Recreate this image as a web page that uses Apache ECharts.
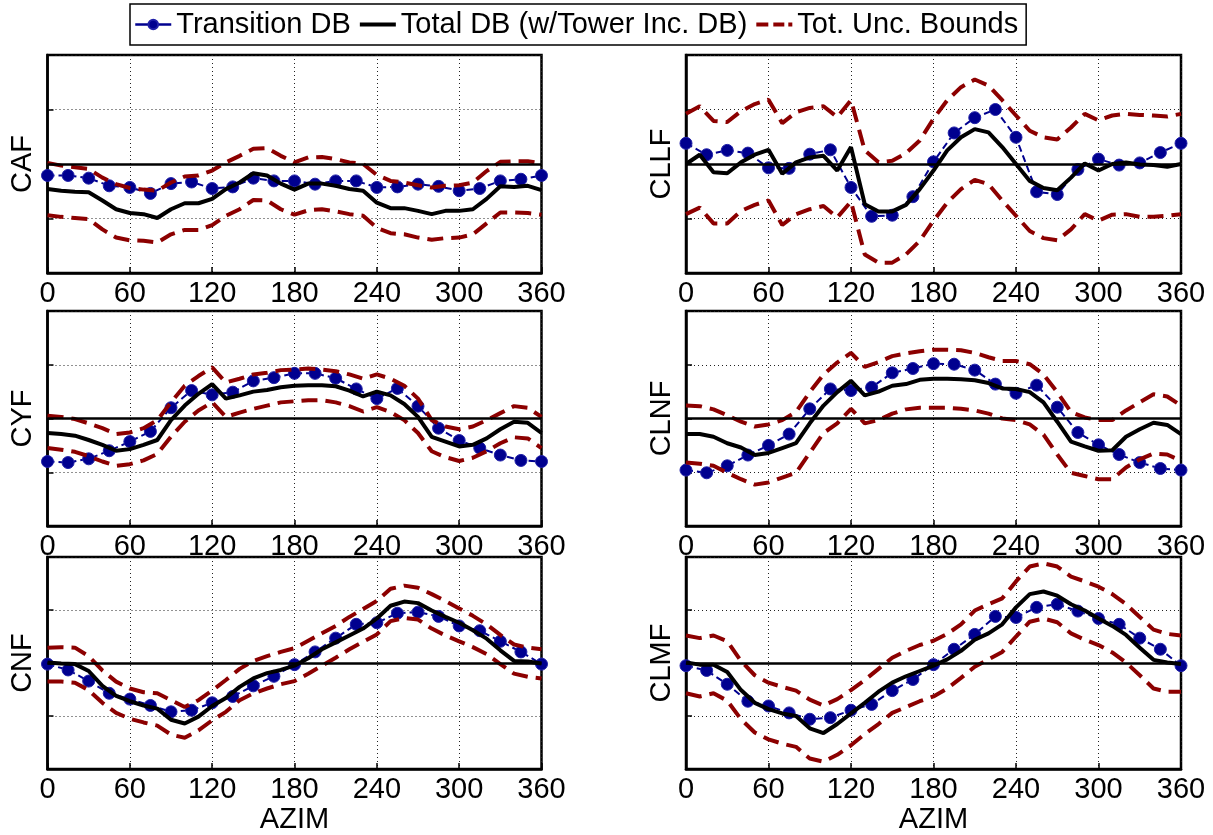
<!DOCTYPE html>
<html><head><meta charset="utf-8">
<script src="https://cdn.jsdelivr.net/npm/echarts@6/dist/echarts.min.js"></script>
<style>html,body{margin:0;padding:0;background:#fff}#c{width:1213px;height:835px}</style>
</head><body><div id="c"></div>
<script>
// ---- Data ----
const az15 = [0,15,30,45,60,75,90,105,120,135,150,165,180,195,210,225,240,255,270,285,300,315,330,345,360];
const az10 = [0,10,20,30,40,50,60,70,80,90,100,110,120,130,140,150,160,170,180,190,200,210,220,230,240,250,260,270,280,290,300,310,320,330,340,350,360];
const xTicks = [0,60,120,180,240,300,360];
const legendNames = ['Transition DB','Total DB (w/Tower Inc. DB)','Tot. Unc. Bounds'];
const panelNames = ['CAF','CLLF','CYF','CLNF','CNF','CLMF'];

const cafTrans = [-0.21,-0.21,-0.26,-0.40,-0.43,-0.54,-0.36,-0.33,-0.45,-0.42,-0.26,-0.31,-0.31,-0.37,-0.31,-0.31,-0.43,-0.42,-0.37,-0.41,-0.49,-0.45,-0.31,-0.28,-0.21];
const cafTotal = [-0.46,-0.49,-0.51,-0.52,-0.67,-0.83,-0.90,-0.92,-0.99,-0.83,-0.72,-0.72,-0.64,-0.46,-0.34,-0.17,-0.21,-0.36,-0.47,-0.36,-0.36,-0.40,-0.46,-0.49,-0.71,-0.81,-0.81,-0.86,-0.92,-0.86,-0.86,-0.83,-0.64,-0.41,-0.42,-0.40,-0.48];
const cafUpper = [0.02,-0.03,-0.06,-0.09,-0.25,-0.37,-0.44,-0.47,-0.49,-0.34,-0.23,-0.21,-0.12,0.03,0.15,0.28,0.29,0.15,0.03,0.12,0.13,0.09,0.03,0.00,-0.20,-0.31,-0.34,-0.39,-0.43,-0.40,-0.39,-0.34,-0.13,0.04,0.05,0.05,0.01];
const cafLower = [-0.94,-0.97,-0.99,-1.01,-1.20,-1.35,-1.40,-1.41,-1.44,-1.29,-1.21,-1.21,-1.12,-0.95,-0.83,-0.66,-0.67,-0.83,-0.93,-0.85,-0.83,-0.87,-0.92,-0.95,-1.17,-1.27,-1.29,-1.35,-1.39,-1.36,-1.35,-1.29,-1.09,-0.89,-0.89,-0.90,-0.93];

const cllfTrans = [0.38,0.17,0.25,0.20,-0.07,-0.08,0.18,0.26,-0.43,-0.96,-0.94,-0.60,0.04,0.57,0.85,1.00,0.49,-0.51,-0.56,-0.10,0.09,-0.02,0.02,0.21,0.38];
const cllfTotal = [0.00,0.17,-0.15,-0.17,0.03,0.17,0.26,-0.18,0.03,0.12,0.15,-0.12,0.31,-0.74,-0.87,-0.87,-0.75,-0.46,-0.12,0.25,0.49,0.64,0.58,0.31,0.00,-0.31,-0.44,-0.48,-0.25,0.01,-0.12,0.00,0.03,-0.01,-0.02,-0.05,0.00];
const cllfUpper = [0.92,1.06,0.79,0.77,0.97,1.10,1.18,0.75,0.95,1.03,1.06,0.86,1.17,0.25,0.03,0.06,0.20,0.43,0.83,1.17,1.41,1.55,1.44,1.17,0.89,0.61,0.49,0.45,0.67,0.92,0.80,0.89,0.92,0.90,0.89,0.87,0.92];
const cllfLower = [-0.92,-0.80,-1.09,-1.09,-0.86,-0.75,-0.67,-1.12,-0.92,-0.83,-0.77,-0.98,-0.69,-1.66,-1.81,-1.81,-1.66,-1.41,-1.04,-0.71,-0.46,-0.29,-0.37,-0.67,-0.95,-1.23,-1.36,-1.40,-1.20,-0.92,-1.04,-0.93,-0.92,-0.97,-0.97,-0.95,-0.92];

const cyfTrans = [-0.80,-0.82,-0.75,-0.60,-0.43,-0.24,0.20,0.52,0.44,0.49,0.70,0.76,0.84,0.84,0.75,0.55,0.37,0.56,0.23,-0.18,-0.41,-0.55,-0.68,-0.78,-0.80];
const cyfTotal = [-0.27,-0.29,-0.32,-0.40,-0.49,-0.60,-0.57,-0.49,-0.40,-0.03,0.24,0.46,0.64,0.37,0.43,0.50,0.53,0.58,0.61,0.62,0.62,0.60,0.52,0.41,0.50,0.43,0.27,0.03,-0.34,-0.43,-0.52,-0.49,-0.37,-0.20,-0.06,-0.08,-0.27];
const cyfUpper = [0.05,0.03,-0.01,-0.09,-0.18,-0.29,-0.26,-0.18,-0.03,0.30,0.61,0.79,0.95,0.67,0.74,0.82,0.85,0.90,0.91,0.93,0.91,0.88,0.82,0.74,0.82,0.74,0.61,0.37,-0.03,-0.15,-0.20,-0.15,-0.03,0.10,0.23,0.20,0.03];
const cyfLower = [-0.55,-0.58,-0.62,-0.70,-0.80,-0.88,-0.85,-0.78,-0.66,-0.34,-0.06,0.15,0.30,0.03,0.11,0.18,0.24,0.30,0.32,0.34,0.34,0.30,0.23,0.13,0.21,0.12,-0.03,-0.27,-0.61,-0.72,-0.79,-0.73,-0.61,-0.46,-0.35,-0.37,-0.55];

const clnfTrans = [-0.96,-1.01,-0.88,-0.68,-0.50,-0.29,0.18,0.55,0.52,0.58,0.85,0.93,1.02,1.01,0.90,0.64,0.47,0.62,0.21,-0.26,-0.49,-0.67,-0.82,-0.93,-0.96];
const clnfTotal = [-0.29,-0.29,-0.34,-0.46,-0.54,-0.68,-0.64,-0.55,-0.46,-0.09,0.24,0.49,0.70,0.43,0.50,0.61,0.64,0.72,0.74,0.74,0.73,0.71,0.66,0.56,0.55,0.49,0.30,-0.06,-0.43,-0.52,-0.60,-0.59,-0.34,-0.20,-0.08,-0.12,-0.29];
const clnfUpper = [0.24,0.23,0.17,0.06,-0.06,-0.15,-0.11,-0.03,0.12,0.49,0.82,1.04,1.22,0.96,1.05,1.16,1.21,1.25,1.28,1.28,1.27,1.22,1.14,1.07,1.07,1.01,0.82,0.49,0.12,0.02,-0.03,-0.03,0.15,0.30,0.45,0.41,0.24];
const clnfLower = [-0.82,-0.84,-0.88,-1.01,-1.13,-1.23,-1.19,-1.10,-1.01,-0.64,-0.27,-0.09,0.18,-0.09,-0.03,0.09,0.17,0.20,0.20,0.20,0.18,0.15,0.09,0.00,-0.03,-0.11,-0.30,-0.67,-1.01,-1.07,-1.13,-1.13,-0.91,-0.76,-0.65,-0.67,-0.79];

const cnfTrans = [-0.02,-0.13,-0.34,-0.57,-0.68,-0.80,-0.92,-0.89,-0.75,-0.63,-0.43,-0.25,-0.03,0.21,0.47,0.73,0.76,0.94,0.96,0.88,0.70,0.61,0.41,0.21,-0.02];
const cnfTotal = [0.01,-0.01,-0.02,-0.15,-0.43,-0.62,-0.72,-0.80,-0.86,-1.07,-1.14,-1.01,-0.81,-0.66,-0.45,-0.29,-0.19,-0.13,-0.05,0.09,0.26,0.39,0.52,0.65,0.84,1.08,1.16,1.13,0.99,0.87,0.76,0.62,0.46,0.24,0.04,0.03,-0.01];
const cnfUpper = [0.29,0.30,0.29,0.13,-0.14,-0.35,-0.48,-0.55,-0.57,-0.70,-0.83,-0.70,-0.52,-0.32,-0.11,0.04,0.13,0.21,0.28,0.42,0.56,0.70,0.87,1.02,1.17,1.40,1.46,1.42,1.30,1.17,1.03,0.89,0.73,0.53,0.35,0.29,0.26];
const cnfLower = [-0.35,-0.35,-0.37,-0.51,-0.75,-0.94,-1.05,-1.12,-1.18,-1.35,-1.41,-1.27,-1.08,-0.92,-0.70,-0.57,-0.48,-0.40,-0.34,-0.20,-0.05,0.10,0.26,0.40,0.54,0.79,0.85,0.82,0.65,0.52,0.41,0.30,0.17,-0.02,-0.20,-0.26,-0.29];

const clmfTrans = [-0.05,-0.14,-0.40,-0.72,-0.81,-0.94,-1.06,-1.03,-0.89,-0.78,-0.52,-0.31,-0.03,0.26,0.54,0.88,0.86,1.05,1.11,0.98,0.84,0.73,0.47,0.26,-0.05];
const clmfTotal = [0.01,-0.03,-0.03,-0.17,-0.51,-0.75,-0.87,-0.95,-1.00,-1.23,-1.32,-1.15,-0.95,-0.75,-0.54,-0.37,-0.25,-0.15,-0.05,0.07,0.23,0.44,0.56,0.73,1.05,1.30,1.35,1.27,1.11,0.99,0.84,0.70,0.53,0.29,0.06,0.01,-0.02];
const clmfUpper = [0.52,0.47,0.52,0.41,0.04,-0.23,-0.37,-0.45,-0.52,-0.69,-0.80,-0.68,-0.51,-0.32,-0.11,0.10,0.23,0.34,0.42,0.55,0.73,0.99,1.11,1.22,1.54,1.82,1.88,1.82,1.63,1.54,1.44,1.30,1.11,0.87,0.63,0.55,0.52];
const clmfLower = [-0.57,-0.63,-0.57,-0.71,-1.06,-1.31,-1.44,-1.52,-1.58,-1.80,-1.86,-1.73,-1.55,-1.34,-1.15,-0.94,-0.83,-0.72,-0.63,-0.48,-0.28,-0.07,0.07,0.21,0.50,0.78,0.84,0.77,0.56,0.44,0.34,0.20,0.01,-0.23,-0.48,-0.54,-0.54];

// ---- Layout ----
const panels = [
  {name: panelNames[0], t: cafTrans,  tot: cafTotal,  up: cafUpper,  lo: cafLower},
  {name: panelNames[1], t: cllfTrans, tot: cllfTotal, up: cllfUpper, lo: cllfLower},
  {name: panelNames[2], t: cyfTrans,  tot: cyfTotal,  up: cyfUpper,  lo: cyfLower},
  {name: panelNames[3], t: clnfTrans, tot: clnfTotal, up: clnfUpper, lo: clnfLower},
  {name: panelNames[4], t: cnfTrans,  tot: cnfTotal,  up: cnfUpper,  lo: cnfLower},
  {name: panelNames[5], t: clmfTrans, tot: clmfTotal, up: clmfUpper, lo: clmfLower}
];
const colLeft = [47.5, 686];
const colWidth = [494, 495];
const rowTop = [55, 311, 557];
const rowHeight = [218, 215, 216];

const FONT = '"Liberation Sans", Arial, Helvetica, sans-serif';
const BLUE = '#00008f';
const RED = '#8c0000';
const DASH = [16, 8];

const grids = [], xAxes = [], yAxes = [], series = [];
panels.forEach((p, i) => {
  const r = Math.floor(i / 2), c = i % 2;
  grids.push({left: colLeft[c], top: rowTop[r], width: colWidth[c], height: rowHeight[r],
    show: true, borderColor: '#000', borderWidth: 2.5, backgroundColor: '#fff', containLabel: false});
  xAxes.push({type: 'value', gridIndex: i, min: 0, max: 360, interval: 60,
    name: r === 2 ? 'AZIM' : '', nameLocation: 'middle', nameGap: 34,
    nameTextStyle: {fontSize: 29, fontFamily: FONT, color: '#000'},
    axisLine: {show: true, onZero: false, lineStyle: {color: '#000', width: 2.5}},
    axisTick: {show: true, inside: true, length: 6, lineStyle: {color: '#000', width: 1.5}},
    axisLabel: {fontSize: 29, fontFamily: FONT, color: '#000', margin: 6},
    splitLine: {show: true, lineStyle: {color: '#222', width: 1, type: [1, 3]}}
  });
  yAxes.push({type: 'value', gridIndex: i, min: -2, max: 2, interval: 1,
    name: p.name, nameLocation: 'middle', nameRotate: 90, nameGap: 10,
    nameTextStyle: {fontSize: 29, fontFamily: FONT, color: '#000'},
    axisLine: {show: true, onZero: false, lineStyle: {color: '#000', width: 2.5}},
    axisTick: {show: true, inside: true, length: 6, lineStyle: {color: '#000', width: 1.5}},
    axisLabel: {show: false},
    splitLine: {show: true, lineStyle: {color: '#222', width: 1, type: [1, 3]}}
  });
  series.push({type: 'line', name: legendNames[0], xAxisIndex: i, yAxisIndex: i, z: 2,
    data: az15.map((a, k) => [a, p.t[k]]),
    symbol: 'circle', symbolSize: 12, showSymbol: true,
    lineStyle: {color: BLUE, width: 2, type: [7, 4]}, itemStyle: {color: BLUE, borderColor: '#2020a8', borderWidth: 1}});
  series.push({type: 'line', name: legendNames[1], xAxisIndex: i, yAxisIndex: i, z: 3,
    data: az10.map((a, k) => [a, p.tot[k]]), symbol: 'none',
    lineStyle: {color: '#000', width: 4}, itemStyle: {color: '#000'},
    markLine: {silent: true, symbol: 'none', label: {show: false}, animation: false,
      lineStyle: {color: '#000', width: 2.5, type: 'solid'}, data: [{yAxis: 0}]}});
  series.push({type: 'line', name: legendNames[2], xAxisIndex: i, yAxisIndex: i, z: 4,
    data: az10.map((a, k) => [a, p.up[k]]), symbol: 'none',
    lineStyle: {color: RED, width: 4, type: DASH}, itemStyle: {color: RED}});
  series.push({type: 'line', name: legendNames[2], xAxisIndex: i, yAxisIndex: i, z: 4,
    data: az10.map((a, k) => [a, p.lo[k]]), symbol: 'none',
    lineStyle: {color: RED, width: 4, type: DASH}, itemStyle: {color: RED}});
});

const chart = echarts.init(document.getElementById('c'), null, {renderer: 'canvas'});
chart.setOption({
  backgroundColor: '#fff',
  animation: false,
  textStyle: {fontFamily: FONT},
  legend: {
    data: [
      {name: legendNames[0], lineStyle: {type: 'solid', width: 2.5}},
      {name: legendNames[1], icon: 'path://M0,0h36v4h-36z', itemStyle: {color: '#000', borderWidth: 0}},
      {name: legendNames[2], icon: 'path://M0,0h12v4h-12zM17,0h11v4h-11zM32,0h4v4h-4z', itemStyle: {color: RED, borderWidth: 0}}
    ],
    left: 130, top: 4, orient: 'horizontal', symbolKeepAspect: true,
    padding: [6, 8, 6, 4], itemGap: 9, itemWidth: 36, itemHeight: 12,
    borderColor: '#000', borderWidth: 1.5, backgroundColor: '#fff',
    textStyle: {fontSize: 29, fontFamily: FONT, color: '#000'}},
  grid: grids, xAxis: xAxes, yAxis: yAxes, series: series
});
</script></body></html>
